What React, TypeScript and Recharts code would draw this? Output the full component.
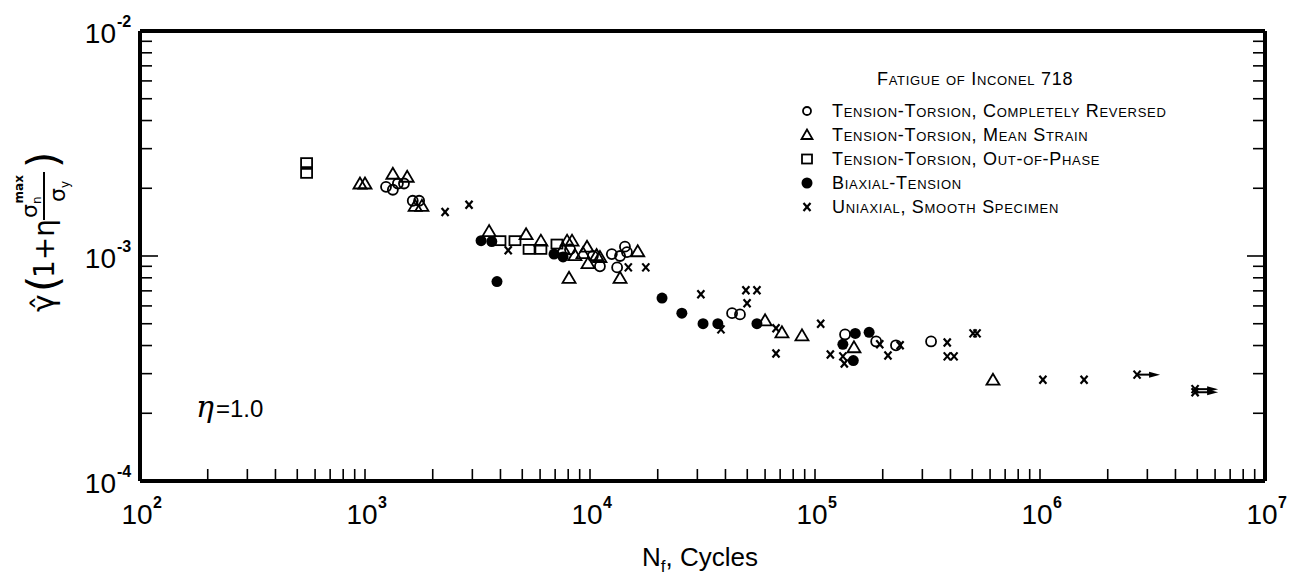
import React from 'react';
import { ScatterChart, Scatter, XAxis, YAxis, Legend } from 'recharts';

// Fatigue of Inconel 718 — N_f (cycles) vs modified shear strain amplitude
const reversedN = [1240, 1330, 1400, 1490, 1630, 1740, 8150, 10300, 11070, 12500, 13600, 14300, 14600, 13200, 42800, 46400, 136000, 187000, 229000, 328000];
const reversedAmp = [2.03e-3, 1.97e-3, 2.1e-3, 2.1e-3, 1.76e-3, 1.76e-3, 1.07e-3, 1.0e-3, 9.0e-4, 1.02e-3, 1.0e-3, 1.1e-3, 1.04e-3, 8.9e-4, 5.57e-4, 5.5e-4, 4.48e-4, 4.17e-4, 4.01e-4, 4.17e-4];

const meanN = [950, 1000, 1330, 1540, 1670, 1790, 3560, 5200, 6050, 7910, 8320, 7590, 8570, 9700, 9310, 9800, 10700, 11070, 13600, 16300, 8070, 60000, 71300, 87500, 149000, 618000];
const meanAmp = [2.1e-3, 2.1e-3, 2.32e-3, 2.25e-3, 1.67e-3, 1.67e-3, 1.29e-3, 1.25e-3, 1.17e-3, 1.17e-3, 1.17e-3, 1.08e-3, 1.01e-3, 1.1e-3, 1.03e-3, 9.3e-4, 1.01e-3, 9.9e-4, 8.0e-4, 1.05e-3, 8.0e-4, 5.18e-4, 4.58e-4, 4.44e-4, 3.93e-4, 2.82e-4];

const outOfPhaseN = [550, 550, 3980, 4640, 5360, 6050, 7130];
const outOfPhaseAmp = [2.6e-3, 2.33e-3, 1.17e-3, 1.17e-3, 1.07e-3, 1.07e-3, 1.13e-3];

const biaxialN = [3280, 3660, 3860, 6920, 7590, 20900, 25600, 31800, 37000, 55200, 133000, 151000, 174000, 148000];
const biaxialAmp = [1.17e-3, 1.16e-3, 7.7e-4, 1.02e-3, 9.9e-4, 6.5e-4, 5.57e-4, 5.0e-4, 5.0e-4, 5.0e-4, 4.05e-4, 4.53e-4, 4.58e-4, 3.43e-4];

const uniaxialN = [2270, 2900, 4330, 14800, 17700, 31100, 38200, 49300, 55200, 49900, 67100, 67100, 106000, 117000, 133000, 135000, 194000, 211000, 239000, 387000, 387000, 415000, 504000, 525000, 1030000, 1570000, 2700000, 4890000, 4890000];
const uniaxialAmp = [1.57e-3, 1.69e-3, 1.06e-3, 8.9e-4, 8.9e-4, 6.76e-4, 4.72e-4, 7.05e-4, 7.05e-4, 6.16e-4, 4.77e-4, 3.69e-4, 5.0e-4, 3.65e-4, 3.58e-4, 3.33e-4, 4.05e-4, 3.61e-4, 4.01e-4, 4.13e-4, 3.58e-4, 3.58e-4, 4.53e-4, 4.53e-4, 2.82e-4, 2.82e-4, 2.97e-4, 2.56e-4, 2.48e-4];
const uniaxialRunout = [false, false, false, false, false, false, false, false, false, false, false, false, false, false, false, false, false, false, false, false, false, false, false, false, false, false, true, true, true];

const X_DECADES = [100, 1000, 10000, 100000, 1000000, 10000000];
const Y_DECADES = [0.0001, 0.001, 0.01];

const legendLabels = [
  'Tension-Torsion, Completely Reversed',
  'Tension-Torsion, Mean Strain',
  'Tension-Torsion, Out-of-Phase',
  'Biaxial-Tension',
  'Uniaxial, Smooth Specimen',
];

const W = 1294;
const H = 581;
const PLOT_LEFT = 140;
const PLOT_RIGHT = 1265;
const PLOT_TOP = 31;
const PLOT_BOTTOM = 481;
const FONT = '"Liberation Sans", Arial, sans-serif';

const toPoints = (n: number[], amp: number[], runout?: boolean[]) =>
  n.map((v, i) => ({ n: v, amp: amp[i], runout: runout ? runout[i] : false }));

const minorTicks = (decades: number[]) =>
  decades.flatMap((d, i) => (i === decades.length - 1 ? [d] : [1, 2, 3, 4, 5, 6, 7, 8, 9].map((m) => m * d)));

const X_TICKS = minorTicks(X_DECADES);
const Y_TICKS = minorTicks(Y_DECADES);

const isDecade = (v: number) => Math.abs(Math.log10(v) - Math.round(Math.log10(v))) < 1e-6;
const exponent = (v: number) => Math.round(Math.log10(v));

// markers
const OpenCircle = ({ cx, cy }: any) => <circle cx={cx} cy={cy} r={5} fill="none" stroke="#000" strokeWidth={1.8} />;
const OpenTriangle = ({ cx, cy }: any) => (
  <polygon points={`${cx},${cy - 6} ${cx - 6.5},${cy + 5} ${cx + 6.5},${cy + 5}`} fill="none" stroke="#000" strokeWidth={1.8} />
);
const OpenSquare = ({ cx, cy }: any) => (
  <rect x={cx - 5.5} y={cy - 4.5} width={11} height={9} fill="none" stroke="#000" strokeWidth={1.8} />
);
const FilledCircle = ({ cx, cy }: any) => <circle cx={cx} cy={cy} r={5.5} fill="#000" />;
const Cross = ({ cx, cy, payload }: any) => (
  <g stroke="#000" strokeWidth={2.2}>
    <line x1={cx - 3.5} y1={cy - 4} x2={cx + 3.5} y2={cy + 4} />
    <line x1={cx - 3.5} y1={cy + 4} x2={cx + 3.5} y2={cy - 4} />
    {payload && payload.runout && (
      <>
        <line x1={cx} y1={cy} x2={cx + 16} y2={cy} strokeWidth={2} />
        <polygon points={`${cx + 12},${cy - 3} ${cx + 23},${cy} ${cx + 12},${cy + 3}`} fill="#000" stroke="none" />
      </>
    )}
  </g>
);

const Exp = ({ x, y, v, anchor }: any) => (
  <text x={x} y={y} fontSize={16} fontWeight="bold" fontFamily={FONT} textAnchor={anchor}>
    {exponent(v)}
  </text>
);

const BottomTick = ({ x, y, payload }: any) => {
  const v = payload.value;
  return (
    <g>
      <line x1={x} x2={x} y1={y} y2={y - 12} stroke="#000" strokeWidth={1.6} />
      {isDecade(v) && (
        <>
          <text x={x - 3} y={y + 43} fontSize={28} fontFamily={FONT} textAnchor="middle">10</text>
          <Exp x={x + 13} y={y + 27} v={v} anchor="start" />
        </>
      )}
    </g>
  );
};

const TopTick = ({ x, y }: any) => <line x1={x} x2={x} y1={y} y2={y + 12} stroke="#000" strokeWidth={1.6} />;

const LeftTick = ({ x, y, payload }: any) => {
  const v = payload.value;
  const major = isDecade(v);
  return (
    <g>
      <line x1={x} x2={x + (major ? 18 : 12)} y1={y} y2={y} stroke="#000" strokeWidth={1.6} />
      {major && (
        <>
          <text x={x - 24} y={y + 12} fontSize={28} fontFamily={FONT} textAnchor="end">10</text>
          <Exp x={x - 23} y={y - 4} v={v} anchor="start" />
        </>
      )}
    </g>
  );
};

const RightTick = ({ x, y, payload }: any) => (
  <line x1={x} x2={x - (isDecade(payload.value) ? 18 : 12)} y1={y} y2={y} stroke="#000" strokeWidth={1.6} />
);

const YTitle = () => (
  <g transform="translate(44 224) rotate(-90)" fontFamily="DejaVu Sans" fill="#000">
    <text x={-88} y={10} fontSize={30}>γ̂</text>
    <text x={-68} y={14} fontSize={42}>(</text>
    <text x={-54} y={10} fontSize={28}>1+η</text>
    <text x={6} y={-7} fontSize={22}>
      σ<tspan fontSize={12} dy={4}>n</tspan>
      <tspan fontSize={12} fontWeight="bold" dx={-7} dy={-18}>max</tspan>
    </text>
    <line x1={4} x2={52} y1={0} y2={0} stroke="#000" strokeWidth={2} />
    <text x={22} y={21} fontSize={22}>
      σ<tspan fontSize={12} dy={4}>y</tspan>
    </text>
    <text x={56} y={14} fontSize={42}>)</text>
  </g>
);

const XTitle = () => (
  <text x={700} y={566} textAnchor="middle" fontSize={26} fontFamily={FONT}>
    N<tspan fontSize={17} dy={6}>f</tspan>
    <tspan dy={-6}>, Cycles</tspan>
  </text>
);

const LegendIcon = ({ i }: { i: number }) => {
  const props = { cx: 10, cy: 9, payload: null };
  return (
    <svg width={20} height={18} style={{ display: 'block' }}>
      {i === 0 && <circle cx={10} cy={9} r={4} fill="none" stroke="#000" strokeWidth={1.8} />}
      {i === 1 && <polygon points="10,3.5 4.5,13 15.5,13" fill="none" stroke="#000" strokeWidth={1.8} />}
      {i === 2 && <rect x={5} y={4.5} width={10} height={9} fill="none" stroke="#000" strokeWidth={1.8} />}
      {i === 3 && <FilledCircle {...props} />}
      {i === 4 && <Cross {...props} />}
    </svg>
  );
};

const LegendBox = () => (
  <div style={{ fontFamily: FONT, fontVariant: 'small-caps', color: '#000', fontSize: 18, letterSpacing: 0.7 }}>
    <div style={{ paddingLeft: 80, height: 32, lineHeight: '24px' }}>Fatigue of Inconel 718</div>
    {legendLabels.map((label, i) => (
      <div key={label} style={{ display: 'flex', alignItems: 'center', height: 24, lineHeight: '24px' }}>
        <LegendIcon i={i} />
        <span style={{ marginLeft: 15 }}>{label}</span>
      </div>
    ))}
  </div>
);

const App: React.FC = () => {
  const axisLine = { stroke: '#000', strokeWidth: 4 };
  return (
    <div style={{ position: 'absolute', left: 0, top: 0, width: W, height: H, background: '#fff' }}>
      <ScatterChart
        width={W}
        height={H}
        margin={{ top: PLOT_TOP - 1, right: W - PLOT_RIGHT - 1, bottom: H - PLOT_BOTTOM - 60, left: PLOT_LEFT - 100 }}
      >
        <XAxis
          dataKey="n"
          type="number"
          scale="log"
          domain={[100, 10000000]}
          allowDataOverflow
          ticks={X_TICKS}
          interval={0}
          tickSize={0}
          tickMargin={0}
          tickLine={false}
          axisLine={axisLine}
          tick={(p: any) => <BottomTick {...p} />}
          height={60}
          label={{ content: () => <XTitle /> }}
        />
        <XAxis
          xAxisId="top"
          orientation="top"
          type="number"
          scale="log"
          domain={[100, 10000000]}
          allowDataOverflow
          ticks={X_TICKS}
          interval={0}
          tickSize={0}
          tickMargin={0}
          tickLine={false}
          axisLine={axisLine}
          tick={(p: any) => <TopTick {...p} />}
          height={1}
        />
        <YAxis
          dataKey="amp"
          type="number"
          scale="log"
          domain={[0.0001, 0.01]}
          allowDataOverflow
          ticks={Y_TICKS}
          interval={0}
          tickSize={0}
          tickMargin={0}
          tickLine={false}
          axisLine={axisLine}
          tick={(p: any) => <LeftTick {...p} />}
          width={100}
          label={{ content: () => <YTitle /> }}
        />
        <YAxis
          yAxisId="right"
          orientation="right"
          type="number"
          scale="log"
          domain={[0.0001, 0.01]}
          allowDataOverflow
          ticks={Y_TICKS}
          interval={0}
          tickSize={0}
          tickMargin={0}
          tickLine={false}
          axisLine={axisLine}
          tick={(p: any) => <RightTick {...p} />}
          width={1}
        />
        <Legend
          layout="vertical"
          align="center"
          verticalAlign="middle"
          content={() => <LegendBox />}
          wrapperStyle={{ left: 797, top: 67, width: 480, height: 160 }}
        />
        <Scatter name={legendLabels[0]} data={toPoints(reversedN, reversedAmp)} shape={(p: any) => <OpenCircle {...p} />} isAnimationActive={false} />
        <Scatter name={legendLabels[1]} data={toPoints(meanN, meanAmp)} shape={(p: any) => <OpenTriangle {...p} />} isAnimationActive={false} />
        <Scatter name={legendLabels[2]} data={toPoints(outOfPhaseN, outOfPhaseAmp)} shape={(p: any) => <OpenSquare {...p} />} isAnimationActive={false} />
        <Scatter name={legendLabels[3]} data={toPoints(biaxialN, biaxialAmp)} shape={(p: any) => <FilledCircle {...p} />} isAnimationActive={false} />
        <Scatter name={legendLabels[4]} data={toPoints(uniaxialN, uniaxialAmp, uniaxialRunout)} shape={(p: any) => <Cross {...p} />} isAnimationActive={false} />
      </ScatterChart>
      <div style={{ position: 'absolute', left: 196, top: 392, fontFamily: FONT, fontSize: 24, lineHeight: '30px' }}>
        <span style={{ fontFamily: 'DejaVu Serif', fontStyle: 'italic', fontSize: 30 }}>η</span>
        <span style={{ marginLeft: 2 }}>=1.0</span>
      </div>
    </div>
  );
};

export default App;
